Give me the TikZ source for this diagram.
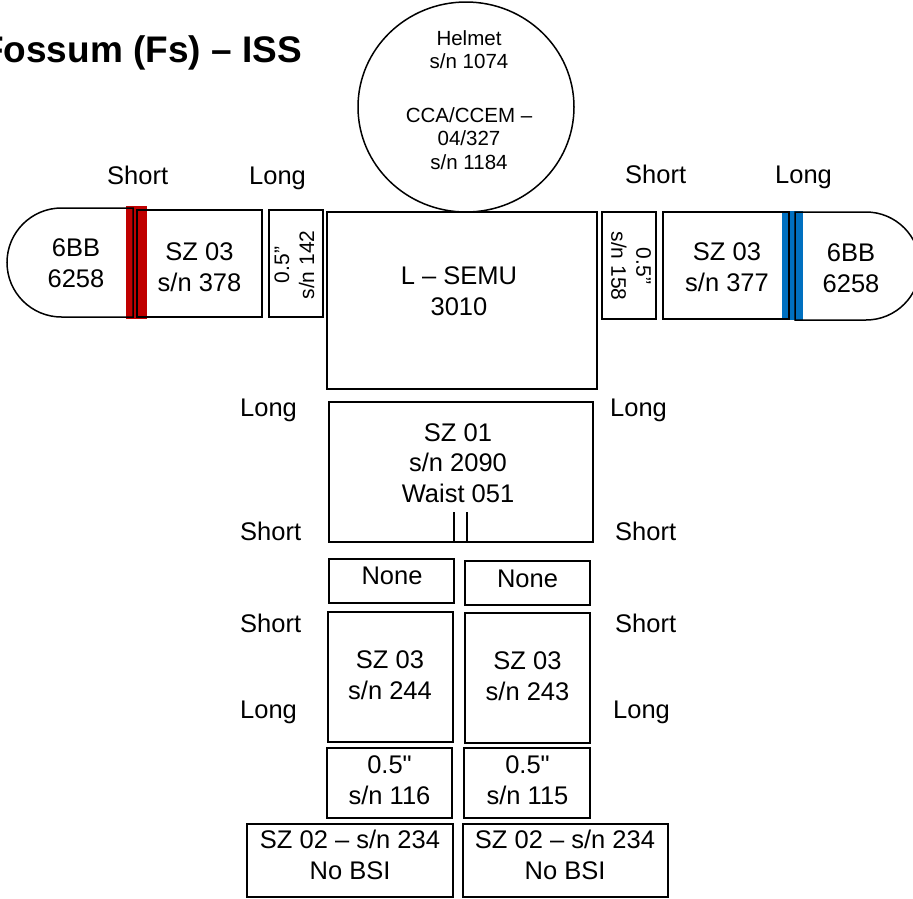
\documentclass[tikz,border=0pt]{standalone}
\usepackage{fontspec}
\setmainfont{Liberation Sans}[Ligatures=TeXOff]
\usetikzlibrary{shapes.geometric}
\definecolor{barred}{RGB}{192,0,0}
\definecolor{barblue}{RGB}{0,112,192}
\newcommand\mainsz{\fontsize{25.5}{30.6}\selectfont}
\newcommand\circsz{\fontsize{20.5}{23.5}\selectfont}
\newcommand\rotsz{\fontsize{21}{25}\selectfont}
\newcommand\headsz{\fontsize{37}{44}\selectfont\bfseries}
\tikzset{
  part/.style={draw=black, line width=1.5pt, inner sep=0pt},
  txt/.style={font=\mainsz, align=center, inner sep=0pt},
  lbl/.style={font=\mainsz, anchor=base west, inner sep=0pt},
  rtxt/.style={font=\rotsz, align=center, inner sep=0pt},
}
\begin{document}
\begin{tikzpicture}[x=1pt,y=-1pt]
\useasboundingbox (0,0) rectangle (913,898);
\clip (0,0) rectangle (913,898);
\fill[white] (0,0) rectangle (913,898);

% title
\node[font=\headsz, anchor=base east, inner sep=0pt] (title) at (302,62) {Fossum (Fs) – ISS};

% helmet
\node[part, ellipse, minimum width=216pt, minimum height=210pt] (helmet) at (466,107) {};
\node[font=\circsz, align=center, inner sep=0pt] (helmettext) at (469,100)
  {Helmet\\s/n 1074\\[30pt]CCA/CCEM –\\04/327\\s/n 1184};

% coloured bars
\fill[barred] (126,206) rectangle (147,319);
\fill[barblue] (782,211) rectangle (803,320);

% torso
\node[part, minimum width=270pt, minimum height=177pt] (semu) at (462,300.5) {};
\node[txt] (semutext) at (459,291) {L – SEMU\\3010};

% left arm
\draw[line width=1.5pt] (133,208) -- (61.5,208) arc[start angle=90, end angle=270, radius=54.5pt] -- (133,317) -- cycle;
\node[txt] (lglovetext) at (76,263.5) {6BB\\6258};
\node[part, minimum width=125pt, minimum height=107pt] (larm) at (199.5,263.5) {};
\node[txt] (larmtext) at (199.5,267) {SZ 03\\s/n 378};
\node[part, minimum width=54pt, minimum height=107pt] (lpad) at (296,263.5) {};
\node[rtxt, rotate=90] (lpadtext) at (294.5,265) {0.5”\\s/n 142};

% right arm
\node[part, minimum width=54pt, minimum height=107pt] (rpad) at (629,265.5) {};
\node[rtxt, rotate=-90] (rpadtext) at (631,266) {0.5”\\s/n 158};
\node[part, minimum width=126pt, minimum height=107pt] (rarm) at (726,265.5) {};
\node[txt] (rarmtext) at (727,267.5) {SZ 03\\s/n 377};
\draw[line width=1.5pt] (795,212) -- (866,212) arc[start angle=90, end angle=-90, radius=54pt] -- (795,320) -- cycle;
\node[txt] (rglovetext) at (851,268.5) {6BB\\6258};

% waist
\node[part, minimum width=264pt, minimum height=140pt] (waist) at (461,472) {};
\node[txt] (waisttext) at (458,463) {SZ 01\\s/n 2090\\Waist 051};
\coordinate (wa) at (454,512);
\coordinate (wb) at (467,512);
\draw[line width=1.5pt] (wa) -- (wa |- waist.south);
\draw[line width=1.5pt] (wb) -- (wb |- waist.south);

% legs
\node[part, minimum width=125pt, minimum height=44pt] (nonel) at (391.5,581) {};
\node[txt] (noneltext) at (392,576) {None};
\node[part, minimum width=125pt, minimum height=44pt] (noner) at (527.5,583) {};
\node[txt] (nonertext) at (527.5,578.5) {None};

\node[part, minimum width=125pt, minimum height=130pt] (legl) at (390.5,677) {};
\node[txt] (legltext) at (390,675) {SZ 03\\s/n 244};
\node[part, minimum width=125pt, minimum height=130pt] (legr) at (527.5,678) {};
\node[txt] (legrtext) at (527.5,676) {SZ 03\\s/n 243};

\node[part, minimum width=125pt, minimum height=70pt] (padl) at (389.5,783) {};
\node[txt] (padltext) at (389.5,780) {0.5"\\s/n 116};
\node[part, minimum width=126pt, minimum height=70pt] (padr) at (527,783) {};
\node[txt] (padrtext) at (527.5,780) {0.5"\\s/n 115};

\node[part, minimum width=206pt, minimum height=73pt] (bootl) at (350,860.5) {};
\node[txt] (bootltext) at (350,855) {SZ 02 – s/n 234\\No BSI};
\node[part, minimum width=205pt, minimum height=73pt] (bootr) at (565.5,860.5) {};
\node[txt] (bootrtext) at (565,855) {SZ 02 – s/n 234\\No BSI};

% side labels
\node[lbl] (l1) at (107,184) {Short};
\node[lbl] (l2) at (249,184) {Long};
\node[lbl] (l3) at (625,183) {Short};
\node[lbl] (l4) at (775,183) {Long};
\node[lbl] (l5) at (240,416) {Long};
\node[lbl] (l6) at (610,416) {Long};
\node[lbl] (l7) at (240,540) {Short};
\node[lbl] (l8) at (615,540) {Short};
\node[lbl] (l9) at (240,632) {Short};
\node[lbl] (l10) at (615,632) {Short};
\node[lbl] (l11) at (240,718) {Long};
\node[lbl] (l12) at (613,718) {Long};
\end{tikzpicture}
\end{document}
